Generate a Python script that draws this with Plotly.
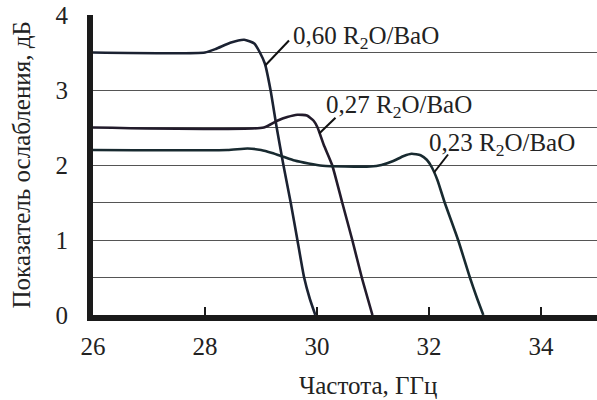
import plotly.graph_objects as go

# ---- data ----
x_060 = [26.0, 28.0, 28.2, 28.45, 28.7, 28.88, 28.98, 29.07, 29.17, 29.28, 29.40, 29.53, 29.65, 29.77, 29.87, 29.97]
y_060 = [3.50, 3.50, 3.55, 3.63, 3.67, 3.62, 3.50, 3.35, 3.00, 2.50, 2.00, 1.50, 1.00, 0.50, 0.22, 0.00]

x_027 = [26.0, 29.05, 29.29, 29.47, 29.65, 29.82, 29.94, 30.01, 30.12, 30.27, 30.45, 30.63, 30.80, 30.99]
y_027 = [2.50, 2.50, 2.59, 2.64, 2.67, 2.66, 2.59, 2.50, 2.27, 2.00, 1.50, 1.00, 0.50, 0.00]

x_023 = [26.0, 28.4, 28.76, 29.0, 29.2, 29.4, 29.6, 29.85, 30.1, 30.5, 30.95, 31.15, 31.35, 31.55,
         31.69, 31.85, 31.96, 32.05, 32.15, 32.28, 32.52, 32.73, 32.85, 32.97]
y_023 = [2.20, 2.20, 2.22, 2.20, 2.16, 2.11, 2.06, 2.02, 1.99, 1.98, 1.98, 2.00, 2.05, 2.12,
         2.15, 2.13, 2.07, 1.97, 1.80, 1.50, 1.00, 0.50, 0.24, 0.00]

series_names = ["0,60 R<sub>2</sub>O/BaO", "0,27 R<sub>2</sub>O/BaO", "0,23 R<sub>2</sub>O/BaO"]
# label anchor (text left, text centre) and leader line (from curve to text)
label_pos = [(29.53, 3.70), (30.12, 2.78), (31.96, 2.28)]
leaders = [((29.08, 3.33), (29.50, 3.66)),
           ((30.04, 2.42), (30.33, 2.63)),
           ((32.09, 1.90), (32.34, 2.14))]

x_ticks = [26, 28, 30, 32, 34]
y_ticks = [0, 1, 2, 3, 4]

colors = ["#1b2232", "#221b2b", "#182a30"]
FONT = "Liberation Serif"
TXT = "#222222"

fig = go.Figure()
for xs, ys, c in zip([x_060, x_027, x_023], [y_060, y_027, y_023], colors):
    fig.add_trace(go.Scatter(x=xs, y=ys, mode="lines",
                             line=dict(color=c, width=2.6, shape="spline", smoothing=0.5),
                             showlegend=False, hoverinfo="skip"))

for name, (lx, ly), ((x0, y0), (x1, y1)) in zip(series_names, label_pos, leaders):
    fig.add_shape(type="line", x0=x0, y0=y0, x1=x1, y1=y1, xref="x", yref="y",
                  line=dict(color="#111111", width=2))
    fig.add_annotation(x=lx, y=ly, xref="x", yref="y", text=name, showarrow=False,
                       xanchor="left", yanchor="middle",
                       font=dict(family=FONT, size=25, color=TXT))

# axis titles
fig.add_annotation(x=0.545, y=-0.235, xref="paper", yref="paper", yanchor="middle",
                   text="Частота, ГГц", showarrow=False,
                   font=dict(family=FONT, size=25, color=TXT))
fig.add_annotation(x=-0.142, y=0.5, xref="paper", yref="paper", xanchor="center", yanchor="middle",
                   text="Показатель ослабления, дБ", textangle=-90, showarrow=False,
                   font=dict(family=FONT, size=25, color=TXT))

fig.update_layout(
    width=597, height=400,
    margin=dict(l=93, r=0, t=15, b=85),
    paper_bgcolor="white", plot_bgcolor="white",
    font=dict(family=FONT, size=25, color=TXT),
    xaxis=dict(range=[26, 35], tickvals=x_ticks, showgrid=False, zeroline=False,
               showline=True, linecolor="#1a1a1a", linewidth=6, automargin=False,
               ticks="inside", ticklen=8, tickwidth=2, tickcolor="#1a1a1a",
               ticklabelstandoff=4),
    yaxis=dict(range=[0, 4], tickvals=y_ticks, showgrid=True, gridcolor="#555555", gridwidth=1,
               minor=dict(dtick=0.5, showgrid=True, gridcolor="#555555", gridwidth=1),
               zeroline=False, showline=True, linecolor="#1a1a1a", linewidth=6, automargin=False,
               ticks="", ticklabelstandoff=14),
)

fig.write_html("out.html", config={"displayModeBar": False},
               post_script="document.body.style.margin='0';")
